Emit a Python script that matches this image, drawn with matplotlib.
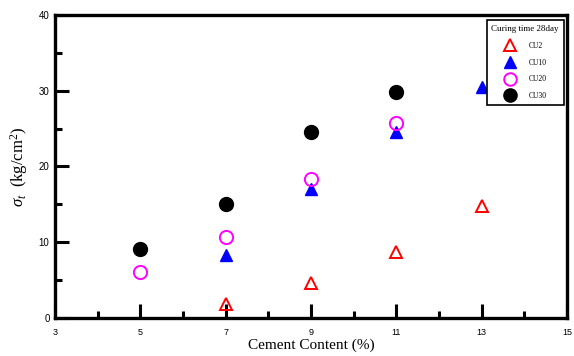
import matplotlib
matplotlib.use("Agg")
import matplotlib.pyplot as plt
from matplotlib.ticker import MultipleLocator

plt.rcParams["mathtext.fontset"] = "custom"
plt.rcParams["mathtext.rm"] = "Liberation Serif"
plt.rcParams["mathtext.it"] = "Liberation Serif:italic"

SERIF = "Liberation Serif"
SANS = "Liberation Sans"

# splitting tensile strength at 28 days, by curing series
cu2_x = [7, 9, 11, 13]
cu2_y = [1.9, 4.6, 8.7, 14.8]
cu10_x = [7, 9, 11, 13]
cu10_y = [8.3, 17.0, 24.5, 30.5]
cu20_x = [5, 7, 9, 11]
cu20_y = [6.1, 10.7, 18.4, 25.8]
cu30_x = [5, 7, 9, 11]
cu30_y = [9.1, 15.1, 24.5, 29.8]

xticks = [3, 5, 7, 9, 11, 13, 15]
yticks = [0, 10, 20, 30, 40]

fig = plt.figure(figsize=(5.74, 3.56), dpi=100)
ax = fig.add_axes([0.096, 0.107, 0.892, 0.851])

ax.plot(cu2_x, cu2_y, ls="none", marker="^", ms=9, mfc="none", mec="red",
        mew=1.4, label="CU2")
ax.plot(cu10_x, cu10_y, ls="none", marker="^", ms=9, mfc="blue", mec="blue",
        label="CU10")
ax.plot(cu20_x, cu20_y, ls="none", marker="o", ms=9.5, mfc="none", mec="magenta",
        mew=1.4, label="CU20")
ax.plot(cu30_x, cu30_y, ls="none", marker="o", ms=10, mfc="black", mec="black",
        label="CU30")

ax.set_xlim(3, 15)
ax.set_ylim(0, 40)
ax.set_xticks(xticks)
ax.set_yticks(yticks)
ax.xaxis.set_minor_locator(MultipleLocator(1))
ax.yaxis.set_minor_locator(MultipleLocator(5))
ax.tick_params(which="major", direction="in", length=10, width=2.2)
ax.tick_params(which="minor", direction="in", length=5, width=2.2)
ax.tick_params(axis="x", which="major", labelsize=6.5, pad=7)
ax.tick_params(axis="y", which="major", labelsize=7, pad=4)
for lbl in ax.get_xticklabels() + ax.get_yticklabels():
    lbl.set_fontfamily(SANS)

for sp in ax.spines.values():
    sp.set_linewidth(2.4)

ax.set_xlabel("Cement Content (%)", fontfamily=SERIF, fontsize=11, labelpad=1)
ax.set_ylabel(r"$\sigma_{t}$  (kg/cm$^{2}$)", fontfamily=SERIF, fontsize=12,
              labelpad=6)

leg = ax.legend(loc="upper right", bbox_to_anchor=(0.993, 0.982),
                title="Curing time 28day", fancybox=False, framealpha=1,
                edgecolor="black", borderpad=0.6, labelspacing=1.15,
                handletextpad=1.6, borderaxespad=0, handlelength=1.6,
                prop={"family": SERIF, "size": 5.5}, markerscale=0.95)
leg.get_title().set_fontfamily(SERIF)
leg.get_title().set_fontsize(6.5)
leg.get_frame().set_linewidth(1.2)

fig.savefig("out.png", dpi=100)
